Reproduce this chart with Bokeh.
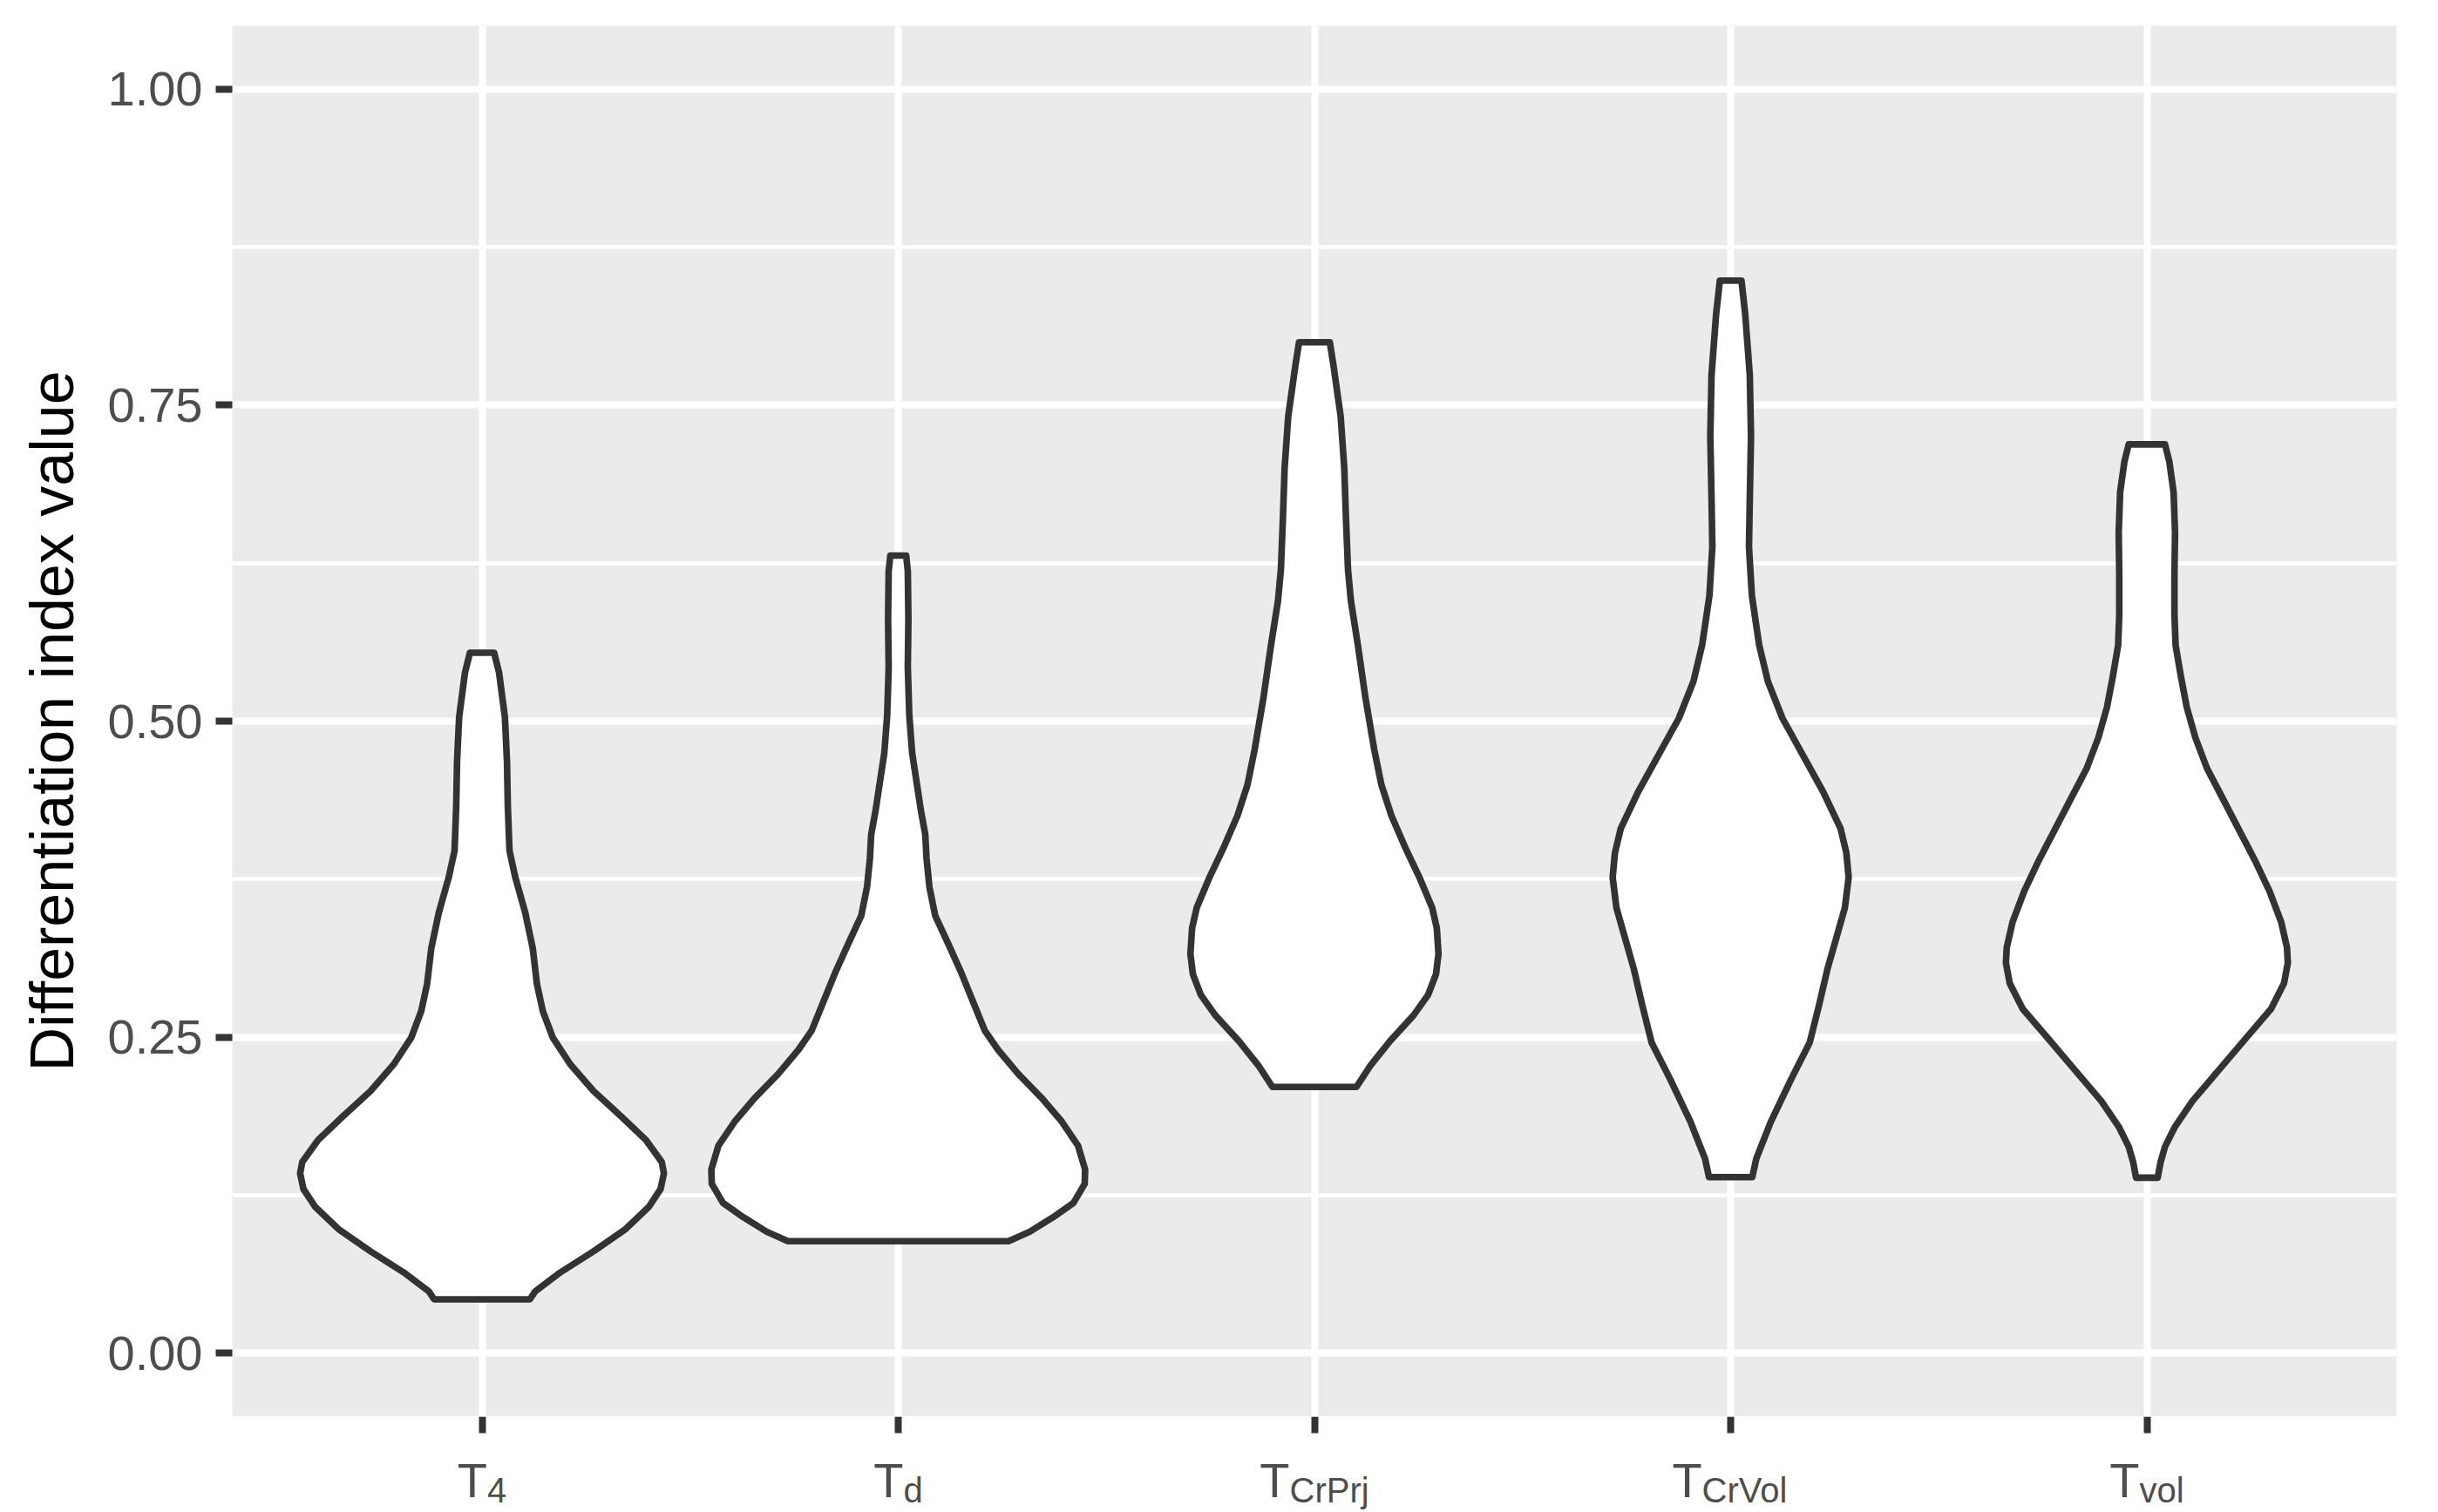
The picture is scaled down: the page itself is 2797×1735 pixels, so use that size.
from bokeh.plotting import figure
from bokeh.models import FixedTicker, NumeralTickFormatter, ColumnDataSource, Range1d, LinearAxis
from bokeh.layouts import column
from bokeh.core.properties import value
from bokeh.embed import file_html
from bokeh.resources import INLINE

# ---------------- data ----------------
categories = ["T4", "Td", "TCrPrj", "TCrVol", "Tvol"]
label_main = ["T", "T", "T", "T", "T"]
label_sub = ["4", "d", "CrPrj", "CrVol", "vol"]

y_ticks = [0.0, 0.25, 0.5, 0.75, 1.0]
y_minor_ticks = [0.125, 0.375, 0.625, 0.875]
y_title = "Differentiation index value"

# violin outlines: y value and half width (in category units)
t4_y = [0.0427, 0.0491, 0.0631, 0.0807, 0.0983, 0.1159, 0.130, 0.1423, 0.1512, 0.1687,
        0.1863, 0.2074, 0.2286, 0.2497, 0.2708, 0.2919, 0.3201, 0.3483, 0.3764, 0.3975,
        0.4327, 0.4679, 0.5031, 0.5383, 0.5541]
t4_hw = [0.115, 0.128, 0.184, 0.268, 0.345, 0.401, 0.429, 0.437, 0.432, 0.394,
         0.338, 0.268, 0.212, 0.170, 0.146, 0.132, 0.122, 0.104, 0.080, 0.066,
         0.062, 0.060, 0.055, 0.041, 0.029]

td_y = [0.0887, 0.0962, 0.1076, 0.1189, 0.1341, 0.1454, 0.1643, 0.1833, 0.2022, 0.2211,
        0.2400, 0.2552, 0.2779, 0.3006, 0.3233, 0.3460, 0.3687, 0.3914, 0.4103, 0.4292,
        0.4520, 0.4747, 0.5049, 0.5427, 0.5806, 0.6184, 0.6310]
td_hw = [0.265, 0.316, 0.372, 0.421, 0.448, 0.449, 0.432, 0.393, 0.344, 0.288,
         0.240, 0.208, 0.180, 0.152, 0.121, 0.089, 0.075, 0.068, 0.065, 0.0545,
         0.044, 0.0335, 0.0265, 0.023, 0.0244, 0.023, 0.019]

tcrprj_y = [0.2107, 0.2269, 0.2471, 0.2673, 0.2835, 0.2998, 0.3159, 0.3362, 0.3523, 0.3766,
            0.4009, 0.4252, 0.4495, 0.4778, 0.5183, 0.5587, 0.5952, 0.6195, 0.6600, 0.7004,
            0.7410, 0.7814, 0.7996]
tcrprj_hw = [0.101, 0.133, 0.182, 0.238, 0.273, 0.292, 0.298, 0.294, 0.283, 0.252,
             0.217, 0.185, 0.161, 0.1435, 0.1226, 0.105, 0.0876, 0.0807, 0.0758, 0.0716,
             0.063, 0.0457, 0.037]

tcrvol_y = [0.1394, 0.1539, 0.1830, 0.2168, 0.2459, 0.2749, 0.3039, 0.3281, 0.3523, 0.3765,
            0.3959, 0.4152, 0.4443, 0.4733, 0.5024, 0.5314, 0.5604, 0.5992, 0.6379, 0.6766,
            0.7250, 0.7734, 0.8217, 0.8484]
tcrvol_hw = [0.052, 0.0615, 0.0964, 0.1453, 0.190, 0.212, 0.2325, 0.2535, 0.2744, 0.2835,
             0.278, 0.264, 0.222, 0.1732, 0.1243, 0.0894, 0.0684, 0.051, 0.044, 0.046,
             0.0489, 0.046, 0.035, 0.026]

tvol_y = [0.1389, 0.1510, 0.1632, 0.1793, 0.1996, 0.2239, 0.2482, 0.2724, 0.2927, 0.3089,
          0.3210, 0.3412, 0.3655, 0.3898, 0.4141, 0.4384, 0.4626, 0.4869, 0.5112, 0.5355,
          0.5598, 0.5841, 0.6165, 0.6489, 0.6812, 0.7055, 0.7189]
tvol_hw = [0.026, 0.0328, 0.0433, 0.0677, 0.1096, 0.1725, 0.2353, 0.2982, 0.3296, 0.3387,
           0.3366, 0.3226, 0.2947, 0.2598, 0.2214, 0.183, 0.1446, 0.1166, 0.0957, 0.0817,
           0.0691, 0.0663, 0.0663, 0.0677, 0.0642, 0.0538, 0.0436]

violin_y = [t4_y, td_y, tcrprj_y, tcrvol_y, tvol_y]
violin_hw = [t4_hw, td_hw, tcrprj_hw, tcrvol_hw, tvol_hw]

# ---------------- style ----------------
FONT = "Liberation Sans"
TICK_COLOR = "#4D4D4D"
DARK = "#333333"
MAIN_SIZE = 56
SUB_SIZE = 40
# Arial-compatible advance widths (per em) for centring the composed labels
ADV = {"T": 0.611, "4": 0.556, "d": 0.556, "C": 0.722, "r": 0.333, "P": 0.667,
       "j": 0.222, "V": 0.667, "o": 0.556, "l": 0.222, "v": 0.5}

LEFT, RIGHT, TOP = 266, 32, 29
FRAME_W, FRAME_H = 2483, 1596
STRIP_H = 109


def text_width(s, size):
    return sum(ADV.get(c, 0.556) for c in s) * size


x_range = Range1d(0.4, 5.6)
x_ticks = list(range(1, len(categories) + 1))

p = figure(frame_width=FRAME_W, frame_height=FRAME_H,
           x_range=x_range, y_range=(-0.05, 1.05),
           output_backend="svg", toolbar_location=None,
           x_axis_location=None,
           min_border_left=LEFT, min_border_right=RIGHT,
           min_border_top=TOP, min_border_bottom=0)

p.background_fill_color = "#EBEBEB"
p.border_fill_color = "white"
p.outline_line_color = None

# grids
p.xgrid.ticker = FixedTicker(ticks=x_ticks)
p.ygrid.ticker = FixedTicker(ticks=y_ticks, minor_ticks=y_minor_ticks)
p.xgrid.grid_line_color = "white"
p.ygrid.grid_line_color = "white"
p.xgrid.grid_line_width = 8
p.ygrid.grid_line_width = 8
p.ygrid.minor_grid_line_color = "white"
p.ygrid.minor_grid_line_width = 4.5

# y axis
yax = p.yaxis[0]
yax.ticker = FixedTicker(ticks=y_ticks, minor_ticks=y_minor_ticks)
yax.formatter = NumeralTickFormatter(format="0.00")
yax.axis_line_color = None
yax.minor_tick_line_color = None
yax.major_tick_line_color = DARK
yax.major_tick_line_width = 8
yax.major_tick_out = 19
yax.major_tick_in = 0
yax.major_label_text_font = FONT
yax.major_label_text_font_size = "56px"
yax.major_label_text_color = TICK_COLOR
yax.major_label_standoff = 15
yax.axis_label = y_title
yax.axis_label_text_font = FONT
yax.axis_label_text_font_size = "70px"
yax.axis_label_text_font_style = "normal"
yax.axis_label_text_color = "black"
yax.axis_label_standoff = 22

# violins
xs, ys = [], []
for i, (yv, hw) in enumerate(zip(violin_y, violin_hw)):
    c = i + 1
    right_x = [c + w for w in hw]
    left_x = [c - w for w in reversed(hw)]
    xs.append(right_x + left_x)
    ys.append(list(yv) + list(reversed(yv)))

p.patches(xs, ys, fill_color="white", line_color=DARK, line_width=7.6,
          line_join="round")

# ---------------- x axis strip: ticks + composed labels (T with subscript) ----------------
p2 = figure(frame_width=FRAME_W, frame_height=STRIP_H,
            x_range=x_range, y_range=Range1d(0, 1),
            output_backend="svg", toolbar_location=None,
            x_axis_location=None, y_axis_location=None,
            min_border_left=LEFT, min_border_right=RIGHT,
            min_border_top=0, min_border_bottom=0)
p2.background_fill_color = "white"
p2.border_fill_color = "white"
p2.outline_line_color = None
p2.grid.visible = False

xax = LinearAxis(ticker=FixedTicker(ticks=x_ticks), fixed_location=1)
xax.axis_line_color = None
xax.minor_tick_line_color = None
xax.major_tick_line_color = DARK
xax.major_tick_line_width = 8
xax.major_tick_out = 19
xax.major_tick_in = 0
xax.major_label_text_font_size = "0px"
xax.major_label_text_color = None
p2.add_layout(xax, "below")

junction = [(text_width(m, MAIN_SIZE) - text_width(s, SUB_SIZE)) / 2.0
            for m, s in zip(label_main, label_sub)]
src = ColumnDataSource(dict(x=x_ticks, y=[1] * len(x_ticks), main=label_main,
                            sub=label_sub, dx=junction))

p2.text(x="x", y="y", text="main", x_offset="dx", y_offset=73, source=src,
        text_align="right", text_baseline="alphabetic",
        text_font=value(FONT), text_font_size=f"{MAIN_SIZE}px",
        text_color=TICK_COLOR)
p2.text(x="x", y="y", text="sub", x_offset="dx", y_offset=84, source=src,
        text_align="left", text_baseline="alphabetic",
        text_font=value(FONT), text_font_size=f"{SUB_SIZE}px",
        text_color=TICK_COLOR)

layout = column(p, p2, spacing=0)
open("out.html", "w").write(file_html(layout, INLINE))
